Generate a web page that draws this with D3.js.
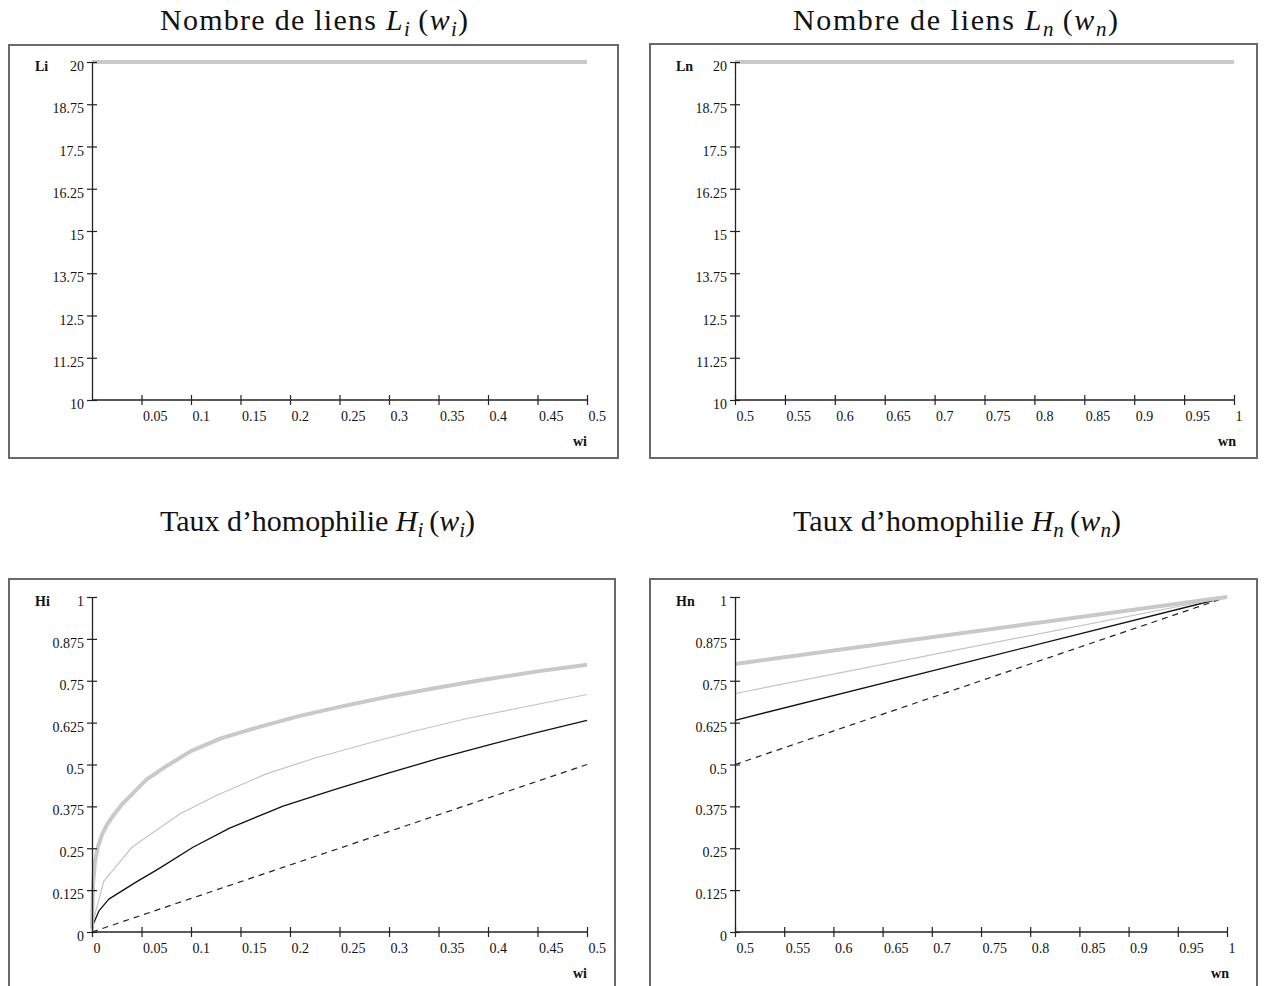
<!DOCTYPE html>
<html><head><meta charset="utf-8">
<script src="https://cdn.jsdelivr.net/npm/d3@7"></script>
<style>body{margin:0;background:#fff}svg{display:block}</style>
</head><body>
<svg id="c" width="1265" height="986"></svg>
<script>
// ---------- DATA ----------
const liX = [0, 0.5];
const liY = [20, 20];
const lnX = [0.5, 1];
const lnY = [20, 20];

const hiThickX = [0, 0.001, 0.003, 0.006, 0.01, 0.015, 0.022, 0.03, 0.04, 0.055, 0.075, 0.1, 0.13, 0.17, 0.21, 0.25, 0.3, 0.35, 0.4, 0.45, 0.5];
const hiThickY = [0.01, 0.14, 0.21, 0.255, 0.29, 0.32, 0.35, 0.38, 0.41, 0.455, 0.495, 0.54, 0.578, 0.613, 0.645, 0.672, 0.703, 0.73, 0.755, 0.778, 0.798];
const hiThinX = [0, 0.012, 0.04, 0.089, 0.126, 0.176, 0.227, 0.281, 0.33, 0.38, 0.43, 0.5];
const hiThinY = [0.02, 0.152, 0.252, 0.353, 0.408, 0.472, 0.521, 0.565, 0.603, 0.638, 0.668, 0.709];
const hiBlackX = [0, 0.007, 0.017, 0.044, 0.068, 0.102, 0.139, 0.193, 0.244, 0.3, 0.35, 0.4, 0.45, 0.5];
const hiBlackY = [0.015, 0.063, 0.098, 0.148, 0.19, 0.253, 0.31, 0.376, 0.424, 0.475, 0.518, 0.558, 0.596, 0.632];
const hiDashX = [0, 0.5];
const hiDashY = [0, 0.5];

const hnX = [0.5, 1];
const hnThickY = [0.8, 1];
const hnThinY = [0.712, 1];
const hnBlackY = [0.632, 1];
const hnDashY = [0.5, 1];

const lYTicks = [10, 11.25, 12.5, 13.75, 15, 16.25, 17.5, 18.75, 20];
const lYLabels = ["10", "11.25", "12.5", "13.75", "15", "16.25", "17.5", "18.75", "20"];
const hYTicks = [0, 0.125, 0.25, 0.375, 0.5, 0.625, 0.75, 0.875, 1];
const hYLabels = ["0", "0.125", "0.25", "0.375", "0.5", "0.625", "0.75", "0.875", "1"];
const wiTicksTop = [0.05, 0.1, 0.15, 0.2, 0.25, 0.3, 0.35, 0.4, 0.45, 0.5];
const wiLabelsTop = ["0.05", "0.1", "0.15", "0.2", "0.25", "0.3", "0.35", "0.4", "0.45", "0.5"];
const wiTicksBot = [0, 0.05, 0.1, 0.15, 0.2, 0.25, 0.3, 0.35, 0.4, 0.45, 0.5];
const wiLabelsBot = ["0", "0.05", "0.1", "0.15", "0.2", "0.25", "0.3", "0.35", "0.4", "0.45", "0.5"];
const wnTicks = [0.5, 0.55, 0.6, 0.65, 0.7, 0.75, 0.8, 0.85, 0.9, 0.95, 1];
const wnLabels = ["0.5", "0.55", "0.6", "0.65", "0.7", "0.75", "0.8", "0.85", "0.9", "0.95", "1"];

// ---------- STYLES ----------
const sty = {
  thick: {stroke: "#c9c9c9", width: 4, dash: null},
  thin:  {stroke: "#c4c4c4", width: 1.2, dash: null},
  black: {stroke: "#111", width: 1.3, dash: null},
  dash:  {stroke: "#222", width: 1.2, dash: "6,5"}
};
const SERIF = "'Liberation Serif', 'Times New Roman', serif";

const panels = [
  {box: [9, 45, 609, 413], ax: 92, xr: [92, 587], yr: [400, 62], xd: [0, 0.5], yd: [10, 20],
   xt: wiTicksTop, xl: wiLabelsTop, yt: lYTicks, yl: lYLabels, yName: "Li", xName: "wi",
   title: {left: 160, w: 308, y: 30, pre: "Nombre de liens ", v: "L", s: "i"},
   series: [{x: liX, y: liY, s: sty.thick}]},
  {box: [650, 44, 607, 414], ax: 735, xr: [735, 1234], yr: [400, 62], xd: [0.5, 1], yd: [10, 20],
   xt: wnTicks, xl: wnLabels, yt: lYTicks, yl: lYLabels, yName: "Ln", xName: "wn",
   title: {left: 793, w: 325, y: 30, pre: "Nombre de liens ", v: "L", s: "n"},
   series: [{x: lnX, y: lnY, s: sty.thick}]},
  {box: [9, 579, 606, 440], ax: 92, xr: [92, 587], yr: [932, 597], xd: [0, 0.5], yd: [0, 1],
   xt: wiTicksBot, xl: wiLabelsBot, yt: hYTicks, yl: hYLabels, yName: "Hi", xName: "wi",
   title: {left: 160, w: 315, y: 531, pre: "Taux d\u2019homophilie ", v: "H", s: "i"},
   series: [{x: hiDashX, y: hiDashY, s: sty.dash}, {x: hiBlackX, y: hiBlackY, s: sty.black},
            {x: hiThinX, y: hiThinY, s: sty.thin}, {x: hiThickX, y: hiThickY, s: sty.thick}]},
  {box: [650, 579, 607, 440], ax: 735, xr: [735, 1227], yr: [932, 597], xd: [0.5, 1], yd: [0, 1],
   xt: wnTicks, xl: wnLabels, yt: hYTicks, yl: hYLabels, yName: "Hn", xName: "wn",
   title: {left: 793, w: 328, y: 531, pre: "Taux d\u2019homophilie ", v: "H", s: "n"},
   series: [{x: hnX, y: hnDashY, s: sty.dash}, {x: hnX, y: hnBlackY, s: sty.black},
            {x: hnX, y: hnThinY, s: sty.thin}, {x: hnX, y: hnThickY, s: sty.thick}]}
];

const svg = d3.select("#c");

panels.forEach(p => {
  const [bx, by, bw, bh] = p.box;
  svg.append("rect").attr("x", bx).attr("y", by).attr("width", bw).attr("height", bh)
    .attr("fill", "none").attr("stroke", "#6a6a6a").attr("stroke-width", 2);

  const x = d3.scaleLinear().domain(p.xd).range(p.xr);
  const y = d3.scaleLinear().domain(p.yd).range(p.yr);

  // title (fit to measured reference width via letter-spacing)
  const t = svg.append("text").attr("x", p.title.left).attr("y", p.title.y)
    .attr("text-anchor", "start").attr("font-family", SERIF).attr("font-size", 30).attr("fill", "#111");
  t.append("tspan").text(p.title.pre);
  t.append("tspan").attr("font-style", "italic").text(p.title.v);
  t.append("tspan").attr("font-style", "italic").attr("font-size", 21).attr("dy", 6).text(p.title.s);
  t.append("tspan").attr("dy", -6).text("\u2009(");
  t.append("tspan").attr("font-style", "italic").text("w");
  t.append("tspan").attr("font-style", "italic").attr("font-size", 21).attr("dy", 6).text(p.title.s);
  t.append("tspan").attr("dy", -6).text(")");
  const bb = t.node().getBBox();
  const nch = t.text().length;
  const ls = (p.title.w - bb.width) / (nch - 1);
  t.attr("letter-spacing", ls);

  // series
  const line = d3.line().x(d => x(d[0])).y(d => y(d[1]));
  p.series.forEach(s => {
    const pts = s.x.map((v, i) => [v, s.y[i]]);
    svg.append("path").attr("d", line(pts)).attr("fill", "none")
      .attr("stroke", s.s.stroke).attr("stroke-width", s.s.width)
      .attr("stroke-dasharray", s.s.dash).attr("stroke-linejoin", "round");
  });

  // x axis
  const gx = svg.append("g").attr("transform", `translate(0,${p.yr[0]})`)
    .call(d3.axisBottom(x).tickValues(p.xt).tickFormat((d, i) => p.xl[i]).tickSizeOuter(0).tickSizeInner(5));
  gx.select(".domain").attr("d", `M${p.ax},0H${p.xr[1]}`).attr("stroke", "#222").attr("stroke-width", 1.3);
  gx.selectAll(".tick line").attr("y1", -5).attr("y2", 5).attr("stroke", "#222").attr("stroke-width", 1.2);
  gx.selectAll(".tick text").attr("y", 21).attr("dy", null).attr("x", 1).attr("text-anchor", "start")
    .attr("font-family", SERIF).attr("font-size", 14).attr("fill", "#111");

  // y axis
  const gy = svg.append("g").attr("transform", `translate(${p.ax},0)`)
    .call(d3.axisLeft(y).tickValues(p.yt).tickFormat((d, i) => p.yl[i]).tickSizeOuter(0).tickSizeInner(5));
  gy.select(".domain").attr("stroke", "#222").attr("stroke-width", 1.3);
  gy.selectAll(".tick line").attr("x1", -5).attr("x2", 5).attr("stroke", "#222").attr("stroke-width", 1.2);
  gy.selectAll(".tick text").attr("x", -8).attr("dy", null).attr("y", 8.5)
    .attr("font-family", SERIF).attr("font-size", 14).attr("fill", "#111");

  // axis names
  svg.append("text").attr("x", bx + 26).attr("y", p.yr[1] + 9).attr("font-family", SERIF)
    .attr("font-weight", "bold").attr("font-size", 14).attr("fill", "#111").text(p.yName);
  svg.append("text").attr("x", p.xr[1] - 7).attr("y", p.yr[0] + 46).attr("text-anchor", "middle")
    .attr("font-family", SERIF).attr("font-weight", "bold").attr("font-size", 14).attr("fill", "#111").text(p.xName);
});
</script>
</body></html>
